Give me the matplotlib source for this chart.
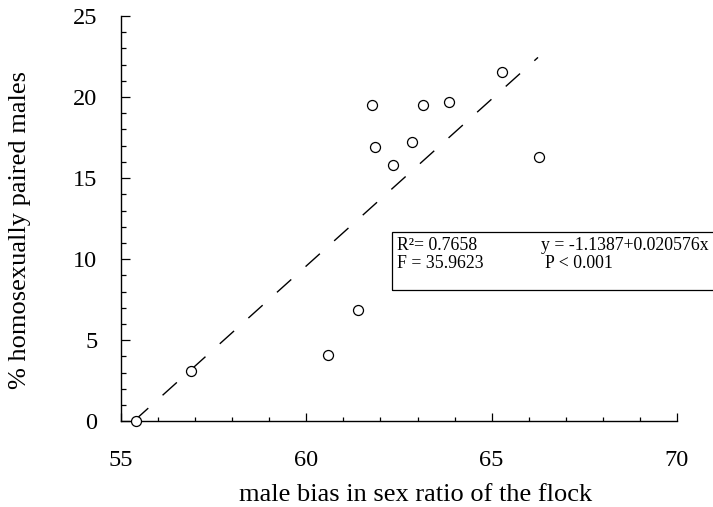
import numpy as np
import matplotlib
matplotlib.use("Agg")
import matplotlib.pyplot as plt
from matplotlib.patches import Rectangle
from matplotlib.ticker import MultipleLocator


# male bias in sex ratio (%) vs % homosexually paired males
sex_ratio = [55.40, 56.88, 60.59, 61.40, 61.76, 61.85, 62.35, 62.84,
             63.14, 63.86, 65.29, 66.27]
pct_paired = [0.0, 3.12, 4.09, 6.87, 19.5, 16.95, 15.78, 17.24,
              19.5, 19.67, 21.52, 16.33]

# regression as printed (proportions -> percent)
intercept = -1.1387
slope = 0.020576
fit_range = [55.35, 66.25]

W, H = 713, 507


def fx(px):
    return px / W


def fy(py):
    return 1 - py / H


plt.rcParams["font.family"] = ["Liberation Serif", "DejaVu Serif"]

fig = plt.figure(figsize=(W / 100, H / 100), dpi=100)
ax = fig.add_axes([fx(121), fy(421.3), fx(677) - fx(121), fy(16) - fy(421.3)])

fit_x = np.array(fit_range)
fit_y = 100 * (intercept + slope * fit_x)
ax.plot(fit_x, fit_y, color="black", lw=1.0, dashes=(13.85, 13.85), zorder=2)
ax.plot(sex_ratio, pct_paired, "o", mfc="white", mec="black", ms=7.2,
        mew=0.9, clip_on=False, zorder=3)

ax.set_xlim(55, 70)
ax.set_ylim(0, 25)
ax.xaxis.set_major_locator(MultipleLocator(5))
ax.xaxis.set_minor_locator(MultipleLocator(1))
ax.yaxis.set_major_locator(MultipleLocator(5))
ax.yaxis.set_minor_locator(MultipleLocator(1))

for s in ("top", "right"):
    ax.spines[s].set_visible(False)
for s in ("left", "bottom"):
    ax.spines[s].set_linewidth(1.0)

ax.tick_params(axis="both", which="both", direction="in", width=0.9,
               labelsize=17.5, top=False, right=False)
ax.tick_params(axis="y", which="major", length=6.2, pad=17)
ax.tick_params(axis="y", which="minor", length=3.6)
ax.tick_params(axis="x", which="major", length=6, pad=21)
ax.tick_params(axis="x", which="minor", length=3.2)

ax.set_xlabel("male bias in sex ratio of the flock", fontsize=19)
ax.set_ylabel("% homosexually paired males", fontsize=19)
ax.xaxis.set_label_coords((416 - 121) / (677 - 121), -(484 - 421.3) / 405.3)
ax.yaxis.set_label_coords(-(121 - 31) / 556, (421.3 - 230) / 405.3)

# stats box
fig.add_artist(Rectangle((fx(392), fy(290)), 1.2, fy(232) - fy(290),
                         transform=fig.transFigure, fill=False,
                         edgecolor="black", lw=0.9, clip_on=False))
stats = [("R²= 0.7658", 397, 245), ("y = -1.1387+0.020576x", 541, 245),
         ("F = 35.9623", 397, 263), ("P < 0.001", 545, 263)]
for txt, px, py in stats:
    fig.text(fx(px), fy(py), txt, fontsize=12.8, ha="left", va="center")

fig.savefig("out.png", dpi=100)
